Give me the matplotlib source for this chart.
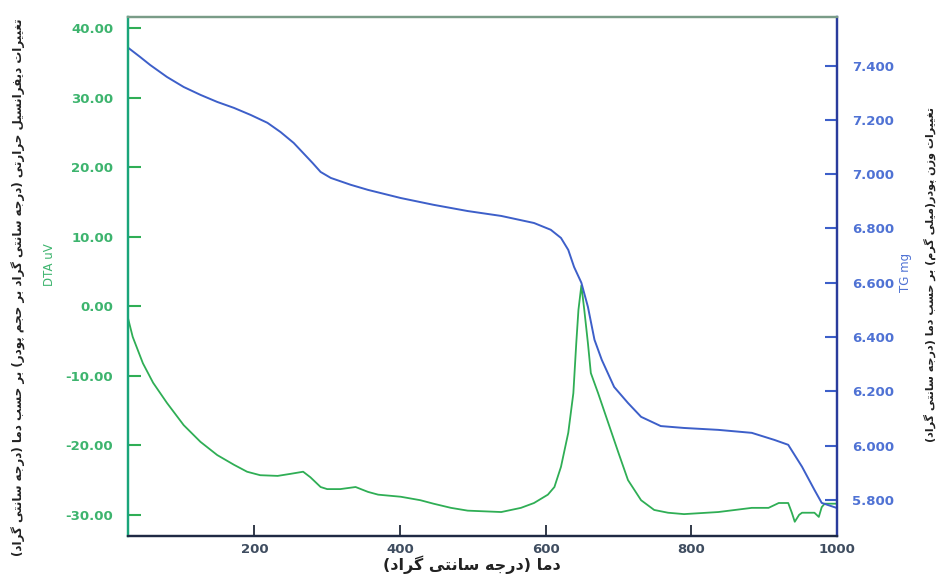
import numpy as np
import matplotlib
matplotlib.use("Agg")
import matplotlib.pyplot as plt
from matplotlib.ticker import FormatStrFormatter

# DTA curve (temperature C, uV)
dta_temp = [27, 33, 47, 61, 80, 103, 126, 149, 172, 190, 208, 232, 250, 267, 277,
            291, 300, 318, 339, 356, 370, 401, 428, 446, 470, 493, 539, 566, 584,
            603, 612, 621, 631, 638, 642, 645, 649, 653, 658, 662, 672, 686, 700,
            713, 731, 749, 768, 790, 837, 883, 906, 920, 933, 938, 942, 948, 952,
            969, 975, 979, 983, 1000]
dta_uv = [-1.9, -4.4, -8.2, -11.0, -13.9, -17.1, -19.5, -21.4, -22.8, -23.8, -24.3,
          -24.4, -24.1, -23.8, -24.6, -26.0, -26.3, -26.3, -26.0, -26.7, -27.1,
          -27.4, -27.9, -28.4, -29.0, -29.4, -29.6, -29.0, -28.3, -27.1, -26.0,
          -23.1, -18.2, -12.5, -5.3, -0.5, 3.0, -0.5, -5.3, -9.6, -12.5, -16.8,
          -21.1, -25.0, -27.9, -29.3, -29.7, -29.9, -29.6, -29.0, -29.0, -28.3,
          -28.3, -29.7, -31.0, -30.0, -29.7, -29.7, -30.3, -28.9, -28.4, -28.4]

# TG curve (temperature C, mg)
tg_temp = [27, 43, 57, 80, 103, 126, 149, 172, 195, 218, 236, 254, 267, 280, 291,
           305, 332, 356, 401, 446, 493, 539, 584, 607, 621, 631, 639, 649, 658,
           667, 677, 694, 713, 731, 758, 790, 837, 883, 914, 933, 952, 969, 979, 1000]
tg_mg = [7.465, 7.432, 7.402, 7.358, 7.321, 7.292, 7.266, 7.244, 7.218, 7.189, 7.155,
         7.115, 7.078, 7.041, 7.008, 6.986, 6.961, 6.942, 6.912, 6.887, 6.864, 6.846,
         6.820, 6.795, 6.765, 6.721, 6.658, 6.600, 6.511, 6.390, 6.316, 6.216, 6.157,
         6.106, 6.072, 6.065, 6.058, 6.047, 6.021, 6.003, 5.922, 5.837, 5.789, 5.770]

x_ticks = [200, 400, 600, 800, 1000]
dta_ticks = [-30, -20, -10, 0, 10, 20, 30, 40]
tg_ticks = [5.8, 6.0, 6.2, 6.4, 6.6, 6.8, 7.0, 7.2, 7.4]

label_left = "تغییرات دیفرانسیل حرارتی (درجه سانتی گراد بر حجم پودر) بر حسب دما (درجه سانتی گراد)"
label_right = "تغییرات وزن پودر(میلی گرم) بر حسب دما (درجه سانتی گراد)"
label_bottom = "دما (درجه سانتی گراد)"

# matplotlib has no arabic shaping, so map letters to presentation forms by hand
FORMS = {
    'ت': ('\uFE95', '\uFE96', '\uFE97', '\uFE98'),
    'غ': ('\uFECD', '\uFECE', '\uFECF', '\uFED0'),
    'ی': ('\uFBFC', '\uFBFD', '\uFBFE', '\uFBFF'),
    'ر': ('\uFEAD', '\uFEAE', None, None),
    'ا': ('\uFE8D', '\uFE8E', None, None),
    'د': ('\uFEA9', '\uFEAA', None, None),
    'ف': ('\uFED1', '\uFED2', '\uFED3', '\uFED4'),
    'ن': ('\uFEE5', '\uFEE6', '\uFEE7', '\uFEE8'),
    'س': ('\uFEB1', '\uFEB2', '\uFEB3', '\uFEB4'),
    'ل': ('\uFEDD', '\uFEDE', '\uFEDF', '\uFEE0'),
    'ح': ('\uFEA1', '\uFEA2', '\uFEA3', '\uFEA4'),
    'ج': ('\uFE9D', '\uFE9E', '\uFE9F', '\uFEA0'),
    'ه': ('\uFEE9', '\uFEEA', '\uFEEB', '\uFEEC'),
    'گ': ('\uFB92', '\uFB93', '\uFB94', '\uFB95'),
    'ب': ('\uFE8F', '\uFE90', '\uFE91', '\uFE92'),
    'م': ('\uFEE1', '\uFEE2', '\uFEE3', '\uFEE4'),
    'پ': ('\uFB56', '\uFB57', '\uFB58', '\uFB59'),
    'و': ('\uFEED', '\uFEEE', None, None),
    'ز': ('\uFEAF', '\uFEB0', None, None),
}


def fa(s):
    out = []
    for i, ch in enumerate(s):
        if ch not in FORMS:
            out.append(ch)
            continue
        prev = s[i - 1] if i > 0 else ''
        nxt = s[i + 1] if i + 1 < len(s) else ''
        jp = prev in FORMS and FORMS[prev][2] is not None
        jn = nxt in FORMS and FORMS[ch][2] is not None
        iso, fin, ini, med = FORMS[ch]
        if jp and jn:
            out.append(med)
        elif jp:
            out.append(fin)
        elif jn:
            out.append(ini)
        else:
            out.append(iso)
    vis = ''.join(out)[::-1]
    return vis.translate(str.maketrans('()', ')('))


green = '#2fae55'
green_txt = '#3db46e'
blue = '#3d5fc9'
blue_txt = '#4f72d4'

fig = plt.figure(figsize=(9.43, 5.75), dpi=100)
ax = fig.add_axes([0.1361, 0.0678, 0.7515, 0.9032])
ax2 = ax.twinx()

ax.plot(dta_temp, dta_uv, color=green, lw=1.3)
ax2.plot(tg_temp, tg_mg, color=blue, lw=1.4)

ax.set_xlim(27, 1000)
ax.set_ylim(-33.05, 41.67)
ax2.set_ylim(5.667, 7.58)

ax.set_xticks(x_ticks)
ax.set_yticks(dta_ticks)
ax2.set_yticks(tg_ticks)
ax.yaxis.set_major_formatter(FormatStrFormatter('%.2f'))
ax2.yaxis.set_major_formatter(FormatStrFormatter('%.3f'))

ax.tick_params(axis='y', direction='in', length=9, width=1.5, color=green,
               labelcolor=green_txt, labelsize=9.5, pad=11)
ax.tick_params(axis='x', direction='in', length=8, width=1.3, color='#222b3a',
               labelcolor='#3f4d60', labelsize=9.5, pad=5)
ax2.tick_params(axis='y', direction='in', length=9, width=1.5, color=blue,
                labelcolor=blue_txt, labelsize=9.5, pad=11)
for lab in ax.get_yticklabels() + ax.get_xticklabels() + ax2.get_yticklabels():
    lab.set_fontweight('bold')

for a in (ax, ax2):
    a.spines['left'].set_color('#1aa57a')
    a.spines['right'].set_color('#2a3c9c')
    a.spines['bottom'].set_color('#1f2a44')
    a.spines['top'].set_color('#7a9c88')
    for sp in a.spines.values():
        sp.set_linewidth(1.6)

fig.text(0.020, 0.50, fa(label_left), rotation=90, ha='center', va='center',
         fontsize=8.6, fontweight='bold', color='#222222')
fig.text(0.052, 0.54, 'DTA uV', rotation=90, ha='center', va='center',
         fontsize=8.5, color=green_txt)
fig.text(0.960, 0.527, 'TG mg', rotation=90, ha='center', va='center',
         fontsize=8.5, color=blue_txt)
fig.text(0.986, 0.522, fa(label_right), rotation=90, ha='center', va='center',
         fontsize=8.0, fontweight='bold', color='#222222')
fig.text(0.50, 0.018, fa(label_bottom), ha='center', va='center',
         fontsize=11.5, fontweight='bold', color='#222222')

fig.savefig('out.png', dpi=100)
